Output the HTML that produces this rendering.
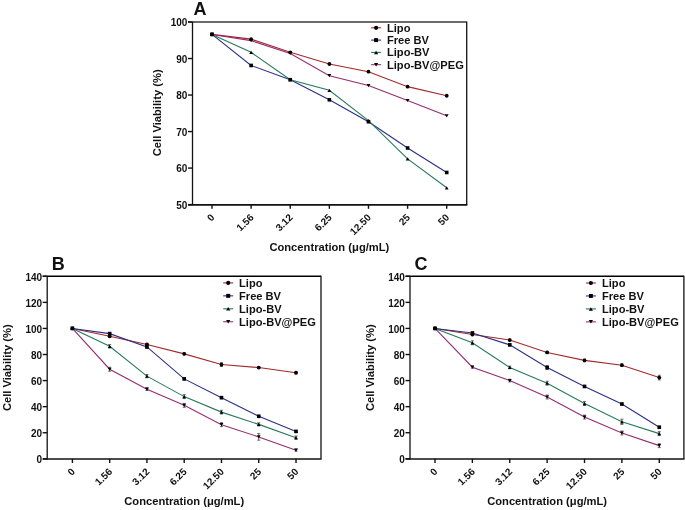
<!DOCTYPE html>
<html><head><meta charset="utf-8"><style>
html,body{margin:0;padding:0;background:#fff;}
svg{display:block;will-change:transform;}
text{font-family:"Liberation Sans", sans-serif;font-weight:bold;fill:#111;}
.t{font-size:10px;}
.ax{font-size:11.2px;}
.lg{font-size:11.1px;}
.let{font-size:18px;}
</style></head><body>
<svg width="685" height="510" viewBox="0 0 685 510">
<rect width="685" height="510" fill="#fff"/>
<polyline points="212.00,34.42 251.12,39.16 290.24,52.31 329.36,64.00 368.48,71.67 407.60,86.64 446.72,95.77" fill="none" stroke="#a3292d" stroke-width="1.1"/>
<polyline points="212.00,34.42 251.12,65.46 290.24,79.70 329.36,99.79 368.48,121.70 407.60,147.99 446.72,172.46" fill="none" stroke="#2b2f86" stroke-width="1.1"/>
<polyline points="212.00,34.42 251.12,52.31 290.24,79.70 329.36,90.29 368.48,120.60 407.60,158.95 446.72,187.80" fill="none" stroke="#267a5c" stroke-width="1.1"/>
<polyline points="212.00,34.42 251.12,40.63 290.24,53.41 329.36,75.68 368.48,85.54 407.60,100.52 446.72,115.86" fill="none" stroke="#962c72" stroke-width="1.1"/>
<circle cx="212.00" cy="34.42" r="1.90" fill="#000"/>
<circle cx="251.12" cy="39.16" r="1.90" fill="#000"/>
<circle cx="290.24" cy="52.31" r="1.90" fill="#000"/>
<circle cx="329.36" cy="64.00" r="1.90" fill="#000"/>
<circle cx="368.48" cy="71.67" r="1.90" fill="#000"/>
<circle cx="407.60" cy="86.64" r="1.90" fill="#000"/>
<circle cx="446.72" cy="95.77" r="1.90" fill="#000"/>
<rect x="210.20" y="32.62" width="3.60" height="3.60" fill="#000"/>
<rect x="249.32" y="63.66" width="3.60" height="3.60" fill="#000"/>
<rect x="288.44" y="77.90" width="3.60" height="3.60" fill="#000"/>
<rect x="327.56" y="97.99" width="3.60" height="3.60" fill="#000"/>
<rect x="366.68" y="119.90" width="3.60" height="3.60" fill="#000"/>
<rect x="405.80" y="146.19" width="3.60" height="3.60" fill="#000"/>
<rect x="444.92" y="170.66" width="3.60" height="3.60" fill="#000"/>
<path d="M212.00,32.82L213.90,36.02L210.10,36.02Z" fill="#000"/>
<path d="M251.12,50.71L253.02,53.91L249.22,53.91Z" fill="#000"/>
<path d="M290.24,78.10L292.14,81.30L288.34,81.30Z" fill="#000"/>
<path d="M329.36,88.69L331.26,91.89L327.46,91.89Z" fill="#000"/>
<path d="M368.48,119.00L370.38,122.20L366.58,122.20Z" fill="#000"/>
<path d="M407.60,157.35L409.50,160.55L405.70,160.55Z" fill="#000"/>
<path d="M446.72,186.20L448.62,189.40L444.82,189.40Z" fill="#000"/>
<path d="M212.00,36.02L213.90,32.82L210.10,32.82Z" fill="#000"/>
<path d="M251.12,42.23L253.02,39.03L249.22,39.03Z" fill="#000"/>
<path d="M290.24,55.01L292.14,51.81L288.34,51.81Z" fill="#000"/>
<path d="M329.36,77.28L331.26,74.08L327.46,74.08Z" fill="#000"/>
<path d="M368.48,87.14L370.38,83.94L366.58,83.94Z" fill="#000"/>
<path d="M407.60,102.12L409.50,98.92L405.70,98.92Z" fill="#000"/>
<path d="M446.72,117.46L448.62,114.26L444.82,114.26Z" fill="#000"/>
<line x1="188.00" y1="22.00" x2="466.70" y2="22.00" stroke="#3a3a3a" stroke-width="1.5"/>
<line x1="466.70" y1="21.50" x2="466.70" y2="204.60" stroke="#111" stroke-width="1.3"/>
<line x1="192.50" y1="22.00" x2="192.50" y2="205.20" stroke="#111" stroke-width="1.3"/>
<line x1="188.00" y1="204.85" x2="467.35" y2="204.85" stroke="#111" stroke-width="1.6"/>
<line x1="188.00" y1="204.60" x2="192.50" y2="204.60" stroke="#111" stroke-width="1.4"/>
<text x="187.40" y="208.90" text-anchor="end" class="t">50</text>
<line x1="188.00" y1="168.08" x2="192.50" y2="168.08" stroke="#111" stroke-width="1.4"/>
<text x="187.40" y="172.38" text-anchor="end" class="t">60</text>
<line x1="188.00" y1="131.56" x2="192.50" y2="131.56" stroke="#111" stroke-width="1.4"/>
<text x="187.40" y="135.86" text-anchor="end" class="t">70</text>
<line x1="188.00" y1="95.04" x2="192.50" y2="95.04" stroke="#111" stroke-width="1.4"/>
<text x="187.40" y="99.34" text-anchor="end" class="t">80</text>
<line x1="188.00" y1="58.52" x2="192.50" y2="58.52" stroke="#111" stroke-width="1.4"/>
<text x="187.40" y="62.82" text-anchor="end" class="t">90</text>
<line x1="188.00" y1="22.00" x2="192.50" y2="22.00" stroke="#111" stroke-width="1.4"/>
<text x="187.40" y="26.30" text-anchor="end" class="t">100</text>
<line x1="212.00" y1="204.60" x2="212.00" y2="208.80" stroke="#111" stroke-width="1.4"/>
<text transform="translate(215.20,218.10) rotate(-45)" text-anchor="end" class="t">0</text>
<line x1="251.12" y1="204.60" x2="251.12" y2="208.80" stroke="#111" stroke-width="1.4"/>
<text transform="translate(254.32,218.10) rotate(-45)" text-anchor="end" class="t">1.56</text>
<line x1="290.24" y1="204.60" x2="290.24" y2="208.80" stroke="#111" stroke-width="1.4"/>
<text transform="translate(293.44,218.10) rotate(-45)" text-anchor="end" class="t">3.12</text>
<line x1="329.36" y1="204.60" x2="329.36" y2="208.80" stroke="#111" stroke-width="1.4"/>
<text transform="translate(332.56,218.10) rotate(-45)" text-anchor="end" class="t">6.25</text>
<line x1="368.48" y1="204.60" x2="368.48" y2="208.80" stroke="#111" stroke-width="1.4"/>
<text transform="translate(371.68,218.10) rotate(-45)" text-anchor="end" class="t">12.50</text>
<line x1="407.60" y1="204.60" x2="407.60" y2="208.80" stroke="#111" stroke-width="1.4"/>
<text transform="translate(410.80,218.10) rotate(-45)" text-anchor="end" class="t">25</text>
<line x1="446.72" y1="204.60" x2="446.72" y2="208.80" stroke="#111" stroke-width="1.4"/>
<text transform="translate(449.92,218.10) rotate(-45)" text-anchor="end" class="t">50</text>
<text x="329.36" y="250.60" text-anchor="middle" class="ax">Concentration (μg/mL)</text>
<text transform="translate(161.00,112.80) rotate(-90)" text-anchor="middle" class="ax">Cell Viability (%)</text>
<text x="193.60" y="15.30" class="let">A</text>
<line x1="371.10" y1="27.80" x2="381.10" y2="27.80" stroke="#a3292d" stroke-width="1.1"/>
<circle cx="376.10" cy="27.80" r="2.09" fill="#000"/>
<text x="387.00" y="31.70" class="lg">Lipo</text>
<line x1="371.10" y1="40.10" x2="381.10" y2="40.10" stroke="#2b2f86" stroke-width="1.1"/>
<rect x="374.12" y="38.12" width="3.96" height="3.96" fill="#000"/>
<text x="387.00" y="44.00" class="lg">Free BV</text>
<line x1="371.10" y1="52.40" x2="381.10" y2="52.40" stroke="#267a5c" stroke-width="1.1"/>
<path d="M376.10,50.64L378.19,54.16L374.01,54.16Z" fill="#000"/>
<text x="387.00" y="56.30" class="lg">Lipo-BV</text>
<line x1="371.10" y1="64.70" x2="381.10" y2="64.70" stroke="#962c72" stroke-width="1.1"/>
<path d="M376.10,66.46L378.19,62.94L374.01,62.94Z" fill="#000"/>
<text x="387.00" y="68.60" class="lg">Lipo-BV@PEG</text>
<polyline points="72.40,328.44 109.67,336.26 146.94,344.48 184.21,353.86 221.48,364.55 258.75,367.55 296.02,372.76" fill="none" stroke="#a3292d" stroke-width="1.1"/>
<polyline points="72.40,328.44 109.67,333.66 146.94,346.95 184.21,378.89 221.48,397.66 258.75,416.30 296.02,431.43" fill="none" stroke="#2b2f86" stroke-width="1.1"/>
<polyline points="72.40,328.44 109.67,346.30 146.94,376.15 184.21,396.62 221.48,412.13 258.75,424.39 296.02,437.68" fill="none" stroke="#267a5c" stroke-width="1.1"/>
<polyline points="72.40,328.44 109.67,369.24 146.94,389.19 184.21,405.35 221.48,424.65 258.75,436.90 296.02,450.20" fill="none" stroke="#962c72" stroke-width="1.1"/>
<path d="M109.67,335.22V337.31M108.17,335.22H111.17M108.17,337.31H111.17" stroke="#444" stroke-width="0.8" fill="none"/>
<path d="M146.94,343.43V345.52M145.44,343.43H148.44M145.44,345.52H148.44" stroke="#444" stroke-width="0.8" fill="none"/>
<path d="M184.21,352.82V354.91M182.71,352.82H185.71M182.71,354.91H185.71" stroke="#444" stroke-width="0.8" fill="none"/>
<path d="M221.48,362.60V366.51M219.98,362.60H222.98M219.98,366.51H222.98" stroke="#444" stroke-width="0.8" fill="none"/>
<path d="M258.75,366.51V368.59M257.25,366.51H260.25M257.25,368.59H260.25" stroke="#444" stroke-width="0.8" fill="none"/>
<path d="M296.02,371.72V373.81M294.52,371.72H297.52M294.52,373.81H297.52" stroke="#444" stroke-width="0.8" fill="none"/>
<path d="M109.67,332.35V334.96M108.17,332.35H111.17M108.17,334.96H111.17" stroke="#444" stroke-width="0.8" fill="none"/>
<path d="M146.94,345.65V348.26M145.44,345.65H148.44M145.44,348.26H148.44" stroke="#444" stroke-width="0.8" fill="none"/>
<path d="M184.21,377.85V379.93M182.71,377.85H185.71M182.71,379.93H185.71" stroke="#444" stroke-width="0.8" fill="none"/>
<path d="M221.48,396.62V398.71M219.98,396.62H222.98M219.98,398.71H222.98" stroke="#444" stroke-width="0.8" fill="none"/>
<path d="M258.75,415.26V417.35M257.25,415.26H260.25M257.25,417.35H260.25" stroke="#444" stroke-width="0.8" fill="none"/>
<path d="M296.02,430.38V432.47M294.52,430.38H297.52M294.52,432.47H297.52" stroke="#444" stroke-width="0.8" fill="none"/>
<path d="M109.67,344.61V348.00M108.17,344.61H111.17M108.17,348.00H111.17" stroke="#444" stroke-width="0.8" fill="none"/>
<path d="M146.94,374.59V377.72M145.44,374.59H148.44M145.44,377.72H148.44" stroke="#444" stroke-width="0.8" fill="none"/>
<path d="M184.21,394.66V398.57M182.71,394.66H185.71M182.71,398.57H185.71" stroke="#444" stroke-width="0.8" fill="none"/>
<path d="M221.48,410.31V413.96M219.98,410.31H222.98M219.98,413.96H222.98" stroke="#444" stroke-width="0.8" fill="none"/>
<path d="M258.75,422.82V425.95M257.25,422.82H260.25M257.25,425.95H260.25" stroke="#444" stroke-width="0.8" fill="none"/>
<path d="M296.02,435.99V439.38M294.52,435.99H297.52M294.52,439.38H297.52" stroke="#444" stroke-width="0.8" fill="none"/>
<path d="M109.67,367.29V371.20M108.17,367.29H111.17M108.17,371.20H111.17" stroke="#444" stroke-width="0.8" fill="none"/>
<path d="M146.94,387.89V390.49M145.44,387.89H148.44M145.44,390.49H148.44" stroke="#444" stroke-width="0.8" fill="none"/>
<path d="M184.21,403.40V407.31M182.71,403.40H185.71M182.71,407.31H185.71" stroke="#444" stroke-width="0.8" fill="none"/>
<path d="M221.48,422.69V426.60M219.98,422.69H222.98M219.98,426.60H222.98" stroke="#444" stroke-width="0.8" fill="none"/>
<path d="M258.75,433.64V440.16M257.25,433.64H260.25M257.25,440.16H260.25" stroke="#444" stroke-width="0.8" fill="none"/>
<path d="M296.02,449.15V451.24M294.52,449.15H297.52M294.52,451.24H297.52" stroke="#444" stroke-width="0.8" fill="none"/>
<circle cx="72.40" cy="328.44" r="1.90" fill="#000"/>
<circle cx="109.67" cy="336.26" r="1.90" fill="#000"/>
<circle cx="146.94" cy="344.48" r="1.90" fill="#000"/>
<circle cx="184.21" cy="353.86" r="1.90" fill="#000"/>
<circle cx="221.48" cy="364.55" r="1.90" fill="#000"/>
<circle cx="258.75" cy="367.55" r="1.90" fill="#000"/>
<circle cx="296.02" cy="372.76" r="1.90" fill="#000"/>
<rect x="70.60" y="326.64" width="3.60" height="3.60" fill="#000"/>
<rect x="107.87" y="331.86" width="3.60" height="3.60" fill="#000"/>
<rect x="145.14" y="345.15" width="3.60" height="3.60" fill="#000"/>
<rect x="182.41" y="377.09" width="3.60" height="3.60" fill="#000"/>
<rect x="219.68" y="395.86" width="3.60" height="3.60" fill="#000"/>
<rect x="256.95" y="414.50" width="3.60" height="3.60" fill="#000"/>
<rect x="294.22" y="429.62" width="3.60" height="3.60" fill="#000"/>
<path d="M72.40,326.84L74.30,330.04L70.50,330.04Z" fill="#000"/>
<path d="M109.67,344.70L111.57,347.90L107.77,347.90Z" fill="#000"/>
<path d="M146.94,374.55L148.84,377.75L145.04,377.75Z" fill="#000"/>
<path d="M184.21,395.02L186.11,398.22L182.31,398.22Z" fill="#000"/>
<path d="M221.48,410.53L223.38,413.73L219.58,413.73Z" fill="#000"/>
<path d="M258.75,422.79L260.65,425.99L256.85,425.99Z" fill="#000"/>
<path d="M296.02,436.08L297.92,439.28L294.12,439.28Z" fill="#000"/>
<path d="M72.40,330.04L74.30,326.84L70.50,326.84Z" fill="#000"/>
<path d="M109.67,370.84L111.57,367.64L107.77,367.64Z" fill="#000"/>
<path d="M146.94,390.79L148.84,387.59L145.04,387.59Z" fill="#000"/>
<path d="M184.21,406.95L186.11,403.75L182.31,403.75Z" fill="#000"/>
<path d="M221.48,426.25L223.38,423.05L219.58,423.05Z" fill="#000"/>
<path d="M258.75,438.50L260.65,435.30L256.85,435.30Z" fill="#000"/>
<path d="M296.02,451.80L297.92,448.60L294.12,448.60Z" fill="#000"/>
<line x1="42.70" y1="276.30" x2="321.00" y2="276.30" stroke="#000" stroke-width="1.5"/>
<line x1="321.00" y1="275.80" x2="321.00" y2="458.80" stroke="#111" stroke-width="1.3"/>
<line x1="47.20" y1="276.30" x2="47.20" y2="459.40" stroke="#111" stroke-width="1.3"/>
<line x1="42.70" y1="459.05" x2="321.65" y2="459.05" stroke="#111" stroke-width="1.6"/>
<line x1="42.70" y1="458.80" x2="47.20" y2="458.80" stroke="#111" stroke-width="1.4"/>
<text x="42.10" y="463.10" text-anchor="end" class="t">0</text>
<line x1="42.70" y1="432.73" x2="47.20" y2="432.73" stroke="#111" stroke-width="1.4"/>
<text x="42.10" y="437.03" text-anchor="end" class="t">20</text>
<line x1="42.70" y1="406.66" x2="47.20" y2="406.66" stroke="#111" stroke-width="1.4"/>
<text x="42.10" y="410.96" text-anchor="end" class="t">40</text>
<line x1="42.70" y1="380.59" x2="47.20" y2="380.59" stroke="#111" stroke-width="1.4"/>
<text x="42.10" y="384.89" text-anchor="end" class="t">60</text>
<line x1="42.70" y1="354.51" x2="47.20" y2="354.51" stroke="#111" stroke-width="1.4"/>
<text x="42.10" y="358.81" text-anchor="end" class="t">80</text>
<line x1="42.70" y1="328.44" x2="47.20" y2="328.44" stroke="#111" stroke-width="1.4"/>
<text x="42.10" y="332.74" text-anchor="end" class="t">100</text>
<line x1="42.70" y1="302.37" x2="47.20" y2="302.37" stroke="#111" stroke-width="1.4"/>
<text x="42.10" y="306.67" text-anchor="end" class="t">120</text>
<line x1="42.70" y1="276.30" x2="47.20" y2="276.30" stroke="#111" stroke-width="1.4"/>
<text x="42.10" y="280.60" text-anchor="end" class="t">140</text>
<line x1="72.40" y1="458.80" x2="72.40" y2="463.00" stroke="#111" stroke-width="1.4"/>
<text transform="translate(75.60,472.30) rotate(-45)" text-anchor="end" class="t">0</text>
<line x1="109.67" y1="458.80" x2="109.67" y2="463.00" stroke="#111" stroke-width="1.4"/>
<text transform="translate(112.87,472.30) rotate(-45)" text-anchor="end" class="t">1.56</text>
<line x1="146.94" y1="458.80" x2="146.94" y2="463.00" stroke="#111" stroke-width="1.4"/>
<text transform="translate(150.14,472.30) rotate(-45)" text-anchor="end" class="t">3.12</text>
<line x1="184.21" y1="458.80" x2="184.21" y2="463.00" stroke="#111" stroke-width="1.4"/>
<text transform="translate(187.41,472.30) rotate(-45)" text-anchor="end" class="t">6.25</text>
<line x1="221.48" y1="458.80" x2="221.48" y2="463.00" stroke="#111" stroke-width="1.4"/>
<text transform="translate(224.68,472.30) rotate(-45)" text-anchor="end" class="t">12.50</text>
<line x1="258.75" y1="458.80" x2="258.75" y2="463.00" stroke="#111" stroke-width="1.4"/>
<text transform="translate(261.95,472.30) rotate(-45)" text-anchor="end" class="t">25</text>
<line x1="296.02" y1="458.80" x2="296.02" y2="463.00" stroke="#111" stroke-width="1.4"/>
<text transform="translate(299.22,472.30) rotate(-45)" text-anchor="end" class="t">50</text>
<text x="184.21" y="504.80" text-anchor="middle" class="ax">Concentration (μg/mL)</text>
<text transform="translate(10.60,367.70) rotate(-90)" text-anchor="middle" class="ax">Cell Viability (%)</text>
<text x="51.70" y="270.10" class="let">B</text>
<line x1="223.20" y1="282.90" x2="233.20" y2="282.90" stroke="#a3292d" stroke-width="1.1"/>
<circle cx="228.20" cy="282.90" r="2.09" fill="#000"/>
<text x="239.10" y="286.80" class="lg">Lipo</text>
<line x1="223.20" y1="295.85" x2="233.20" y2="295.85" stroke="#2b2f86" stroke-width="1.1"/>
<rect x="226.22" y="293.87" width="3.96" height="3.96" fill="#000"/>
<text x="239.10" y="299.75" class="lg">Free BV</text>
<line x1="223.20" y1="308.80" x2="233.20" y2="308.80" stroke="#267a5c" stroke-width="1.1"/>
<path d="M228.20,307.04L230.29,310.56L226.11,310.56Z" fill="#000"/>
<text x="239.10" y="312.70" class="lg">Lipo-BV</text>
<line x1="223.20" y1="321.75" x2="233.20" y2="321.75" stroke="#962c72" stroke-width="1.1"/>
<path d="M228.20,323.51L230.29,319.99L226.11,319.99Z" fill="#000"/>
<text x="239.10" y="325.65" class="lg">Lipo-BV@PEG</text>
<polyline points="435.00,328.44 472.38,334.57 509.76,340.04 547.14,352.43 584.52,360.38 621.90,365.20 659.28,377.59" fill="none" stroke="#a3292d" stroke-width="1.1"/>
<polyline points="435.00,328.44 472.38,333.01 509.76,344.87 547.14,367.55 584.52,386.45 621.90,404.05 659.28,427.25" fill="none" stroke="#2b2f86" stroke-width="1.1"/>
<polyline points="435.00,328.44 472.38,342.78 509.76,367.42 547.14,383.19 584.52,403.53 621.90,421.78 659.28,433.64" fill="none" stroke="#267a5c" stroke-width="1.1"/>
<polyline points="435.00,328.44 472.38,367.16 509.76,380.59 547.14,397.01 584.52,417.09 621.90,432.99 659.28,445.63" fill="none" stroke="#962c72" stroke-width="1.1"/>
<path d="M472.38,333.53V335.61M470.88,333.53H473.88M470.88,335.61H473.88" stroke="#444" stroke-width="0.8" fill="none"/>
<path d="M509.76,339.00V341.09M508.26,339.00H511.26M508.26,341.09H511.26" stroke="#444" stroke-width="0.8" fill="none"/>
<path d="M547.14,351.39V353.47M545.64,351.39H548.64M545.64,353.47H548.64" stroke="#444" stroke-width="0.8" fill="none"/>
<path d="M584.52,359.08V361.68M583.02,359.08H586.02M583.02,361.68H586.02" stroke="#444" stroke-width="0.8" fill="none"/>
<path d="M621.90,363.90V366.51M620.40,363.90H623.40M620.40,366.51H623.40" stroke="#444" stroke-width="0.8" fill="none"/>
<path d="M659.28,375.24V379.93M657.78,375.24H660.78M657.78,379.93H660.78" stroke="#444" stroke-width="0.8" fill="none"/>
<path d="M472.38,331.96V334.05M470.88,331.96H473.88M470.88,334.05H473.88" stroke="#444" stroke-width="0.8" fill="none"/>
<path d="M509.76,343.82V345.91M508.26,343.82H511.26M508.26,345.91H511.26" stroke="#444" stroke-width="0.8" fill="none"/>
<path d="M547.14,365.59V369.51M545.64,365.59H548.64M545.64,369.51H548.64" stroke="#444" stroke-width="0.8" fill="none"/>
<path d="M584.52,385.41V387.49M583.02,385.41H586.02M583.02,387.49H586.02" stroke="#444" stroke-width="0.8" fill="none"/>
<path d="M621.90,403.01V405.09M620.40,403.01H623.40M620.40,405.09H623.40" stroke="#444" stroke-width="0.8" fill="none"/>
<path d="M659.28,426.21V428.30M657.78,426.21H660.78M657.78,428.30H660.78" stroke="#444" stroke-width="0.8" fill="none"/>
<path d="M472.38,340.83V344.74M470.88,340.83H473.88M470.88,344.74H473.88" stroke="#444" stroke-width="0.8" fill="none"/>
<path d="M509.76,366.12V368.72M508.26,366.12H511.26M508.26,368.72H511.26" stroke="#444" stroke-width="0.8" fill="none"/>
<path d="M547.14,381.24V385.15M545.64,381.24H548.64M545.64,385.15H548.64" stroke="#444" stroke-width="0.8" fill="none"/>
<path d="M584.52,401.57V405.48M583.02,401.57H586.02M583.02,405.48H586.02" stroke="#444" stroke-width="0.8" fill="none"/>
<path d="M621.90,419.17V424.39M620.40,419.17H623.40M620.40,424.39H623.40" stroke="#444" stroke-width="0.8" fill="none"/>
<path d="M659.28,431.69V435.60M657.78,431.69H660.78M657.78,435.60H660.78" stroke="#444" stroke-width="0.8" fill="none"/>
<path d="M472.38,366.12V368.20M470.88,366.12H473.88M470.88,368.20H473.88" stroke="#444" stroke-width="0.8" fill="none"/>
<path d="M509.76,379.28V381.89M508.26,379.28H511.26M508.26,381.89H511.26" stroke="#444" stroke-width="0.8" fill="none"/>
<path d="M547.14,395.06V398.97M545.64,395.06H548.64M545.64,398.97H548.64" stroke="#444" stroke-width="0.8" fill="none"/>
<path d="M584.52,415.13V419.04M583.02,415.13H586.02M583.02,419.04H586.02" stroke="#444" stroke-width="0.8" fill="none"/>
<path d="M621.90,431.03V434.94M620.40,431.03H623.40M620.40,434.94H623.40" stroke="#444" stroke-width="0.8" fill="none"/>
<path d="M659.28,443.68V447.59M657.78,443.68H660.78M657.78,447.59H660.78" stroke="#444" stroke-width="0.8" fill="none"/>
<circle cx="435.00" cy="328.44" r="1.90" fill="#000"/>
<circle cx="472.38" cy="334.57" r="1.90" fill="#000"/>
<circle cx="509.76" cy="340.04" r="1.90" fill="#000"/>
<circle cx="547.14" cy="352.43" r="1.90" fill="#000"/>
<circle cx="584.52" cy="360.38" r="1.90" fill="#000"/>
<circle cx="621.90" cy="365.20" r="1.90" fill="#000"/>
<circle cx="659.28" cy="377.59" r="1.90" fill="#000"/>
<rect x="433.20" y="326.64" width="3.60" height="3.60" fill="#000"/>
<rect x="470.58" y="331.21" width="3.60" height="3.60" fill="#000"/>
<rect x="507.96" y="343.07" width="3.60" height="3.60" fill="#000"/>
<rect x="545.34" y="365.75" width="3.60" height="3.60" fill="#000"/>
<rect x="582.72" y="384.65" width="3.60" height="3.60" fill="#000"/>
<rect x="620.10" y="402.25" width="3.60" height="3.60" fill="#000"/>
<rect x="657.48" y="425.45" width="3.60" height="3.60" fill="#000"/>
<path d="M435.00,326.84L436.90,330.04L433.10,330.04Z" fill="#000"/>
<path d="M472.38,341.18L474.28,344.38L470.48,344.38Z" fill="#000"/>
<path d="M509.76,365.82L511.66,369.02L507.86,369.02Z" fill="#000"/>
<path d="M547.14,381.59L549.04,384.79L545.24,384.79Z" fill="#000"/>
<path d="M584.52,401.93L586.42,405.13L582.62,405.13Z" fill="#000"/>
<path d="M621.90,420.18L623.80,423.38L620.00,423.38Z" fill="#000"/>
<path d="M659.28,432.04L661.18,435.24L657.38,435.24Z" fill="#000"/>
<path d="M435.00,330.04L436.90,326.84L433.10,326.84Z" fill="#000"/>
<path d="M472.38,368.76L474.28,365.56L470.48,365.56Z" fill="#000"/>
<path d="M509.76,382.19L511.66,378.99L507.86,378.99Z" fill="#000"/>
<path d="M547.14,398.61L549.04,395.41L545.24,395.41Z" fill="#000"/>
<path d="M584.52,418.69L586.42,415.49L582.62,415.49Z" fill="#000"/>
<path d="M621.90,434.59L623.80,431.39L620.00,431.39Z" fill="#000"/>
<path d="M659.28,447.23L661.18,444.03L657.38,444.03Z" fill="#000"/>
<line x1="405.50" y1="276.30" x2="683.90" y2="276.30" stroke="#000" stroke-width="1.5"/>
<line x1="683.90" y1="275.80" x2="683.90" y2="458.80" stroke="#111" stroke-width="1.3"/>
<line x1="410.00" y1="276.30" x2="410.00" y2="459.40" stroke="#111" stroke-width="1.3"/>
<line x1="405.50" y1="459.05" x2="684.55" y2="459.05" stroke="#111" stroke-width="1.6"/>
<line x1="405.50" y1="458.80" x2="410.00" y2="458.80" stroke="#111" stroke-width="1.4"/>
<text x="404.90" y="463.10" text-anchor="end" class="t">0</text>
<line x1="405.50" y1="432.73" x2="410.00" y2="432.73" stroke="#111" stroke-width="1.4"/>
<text x="404.90" y="437.03" text-anchor="end" class="t">20</text>
<line x1="405.50" y1="406.66" x2="410.00" y2="406.66" stroke="#111" stroke-width="1.4"/>
<text x="404.90" y="410.96" text-anchor="end" class="t">40</text>
<line x1="405.50" y1="380.59" x2="410.00" y2="380.59" stroke="#111" stroke-width="1.4"/>
<text x="404.90" y="384.89" text-anchor="end" class="t">60</text>
<line x1="405.50" y1="354.51" x2="410.00" y2="354.51" stroke="#111" stroke-width="1.4"/>
<text x="404.90" y="358.81" text-anchor="end" class="t">80</text>
<line x1="405.50" y1="328.44" x2="410.00" y2="328.44" stroke="#111" stroke-width="1.4"/>
<text x="404.90" y="332.74" text-anchor="end" class="t">100</text>
<line x1="405.50" y1="302.37" x2="410.00" y2="302.37" stroke="#111" stroke-width="1.4"/>
<text x="404.90" y="306.67" text-anchor="end" class="t">120</text>
<line x1="405.50" y1="276.30" x2="410.00" y2="276.30" stroke="#111" stroke-width="1.4"/>
<text x="404.90" y="280.60" text-anchor="end" class="t">140</text>
<line x1="435.00" y1="458.80" x2="435.00" y2="463.00" stroke="#111" stroke-width="1.4"/>
<text transform="translate(438.20,472.30) rotate(-45)" text-anchor="end" class="t">0</text>
<line x1="472.38" y1="458.80" x2="472.38" y2="463.00" stroke="#111" stroke-width="1.4"/>
<text transform="translate(475.58,472.30) rotate(-45)" text-anchor="end" class="t">1.56</text>
<line x1="509.76" y1="458.80" x2="509.76" y2="463.00" stroke="#111" stroke-width="1.4"/>
<text transform="translate(512.96,472.30) rotate(-45)" text-anchor="end" class="t">3.12</text>
<line x1="547.14" y1="458.80" x2="547.14" y2="463.00" stroke="#111" stroke-width="1.4"/>
<text transform="translate(550.34,472.30) rotate(-45)" text-anchor="end" class="t">6.25</text>
<line x1="584.52" y1="458.80" x2="584.52" y2="463.00" stroke="#111" stroke-width="1.4"/>
<text transform="translate(587.72,472.30) rotate(-45)" text-anchor="end" class="t">12.50</text>
<line x1="621.90" y1="458.80" x2="621.90" y2="463.00" stroke="#111" stroke-width="1.4"/>
<text transform="translate(625.10,472.30) rotate(-45)" text-anchor="end" class="t">25</text>
<line x1="659.28" y1="458.80" x2="659.28" y2="463.00" stroke="#111" stroke-width="1.4"/>
<text transform="translate(662.48,472.30) rotate(-45)" text-anchor="end" class="t">50</text>
<text x="547.14" y="504.80" text-anchor="middle" class="ax">Concentration (μg/mL)</text>
<text transform="translate(374.20,367.70) rotate(-90)" text-anchor="middle" class="ax">Cell Viability (%)</text>
<text x="414.50" y="270.40" class="let">C</text>
<line x1="585.90" y1="283.00" x2="595.90" y2="283.00" stroke="#a3292d" stroke-width="1.1"/>
<circle cx="590.90" cy="283.00" r="2.09" fill="#000"/>
<text x="602.00" y="286.90" class="lg">Lipo</text>
<line x1="585.90" y1="295.95" x2="595.90" y2="295.95" stroke="#2b2f86" stroke-width="1.1"/>
<rect x="588.92" y="293.97" width="3.96" height="3.96" fill="#000"/>
<text x="602.00" y="299.85" class="lg">Free BV</text>
<line x1="585.90" y1="308.90" x2="595.90" y2="308.90" stroke="#267a5c" stroke-width="1.1"/>
<path d="M590.90,307.14L592.99,310.66L588.81,310.66Z" fill="#000"/>
<text x="602.00" y="312.80" class="lg">Lipo-BV</text>
<line x1="585.90" y1="321.85" x2="595.90" y2="321.85" stroke="#962c72" stroke-width="1.1"/>
<path d="M590.90,323.61L592.99,320.09L588.81,320.09Z" fill="#000"/>
<text x="602.00" y="325.75" class="lg">Lipo-BV@PEG</text>
</svg>
</body></html>
